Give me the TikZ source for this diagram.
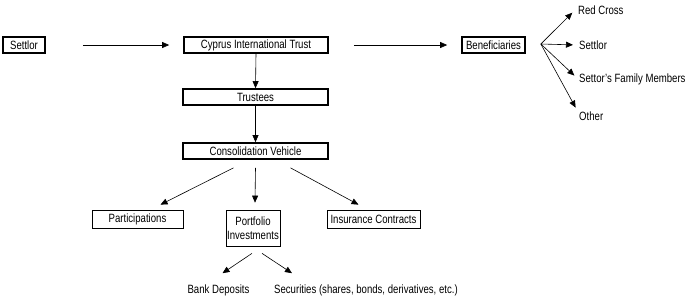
\documentclass[tikz,border=0pt]{standalone}
\usepackage{fontspec}
\setmainfont[FakeStretch=0.8]{Liberation Sans}
\usetikzlibrary{arrows.meta,shadows}
\begin{document}
\begin{tikzpicture}[x=1pt,y=-1pt,
  every node/.style={font=\fontsize{12}{13}\selectfont},
  bigbox/.style={draw, line width=1.7pt, minimum height=16pt, inner sep=0pt},
  smallbox/.style={draw, line width=0.7pt, minimum height=18pt, inner sep=0pt, fill=white,
     drop shadow={shadow xshift=1pt, shadow yshift=-1pt, opacity=1, fill=black}},
  lbl/.style={inner sep=1pt},
  conn/.style={line width=0.6pt, -{Triangle[length=7pt,width=6pt]}}]
\useasboundingbox (0,0) rectangle (697,301);
% top row
\node[bigbox, minimum width=42pt] (settlor) at (24,45) {Settlor};
\node[bigbox, minimum width=144pt] (cit) at (256,45) {Cyprus International Trust};
\node[bigbox, minimum width=63pt] (ben) at (493.5,45) {Beneficiaries};
\node[bigbox, minimum width=145pt] (trustees) at (255.5,97) {Trustees};
\node[bigbox, minimum width=145pt] (cv) at (255.5,151) {Consolidation Vehicle};
% beneficiaries
\node[lbl, anchor=west] (rc) at (577,10) {Red Cross};
\node[lbl, anchor=west] (bs) at (578,45) {Settlor};
\node[lbl, anchor=west] (fam) at (578,79) {Settor's Family Members};
\node[lbl, anchor=west] (oth) at (578,116) {Other};
% investments
\node[smallbox, minimum width=91pt] (part) at (137.5,219) {Participations};
\node[smallbox, minimum width=54pt, minimum height=36pt, align=center] (pi) at (253,228) {Portfolio\\[1pt]Investments};
\node[smallbox, minimum width=93pt] (ic) at (373.5,219) {Insurance Contracts};
\node[lbl] (bank) at (218.5,290) {Bank Deposits};
\node[lbl, anchor=west] (sec) at (273,290) {Securities (shares, bonds, derivatives, etc.)};
% connectors
\draw[conn, shorten <=37pt, shorten >=14pt] (settlor.east) -- (cit.west);
\draw[conn, shorten <=25pt, shorten >=14pt] (cit.east) -- (ben.west);
\draw[conn, shorten >=1pt] ([xshift=15pt,yshift=1pt]ben.east) -- ([xshift=-4pt,yshift=-2pt]rc.west);
\draw[conn, shorten >=5pt] ([xshift=15pt,yshift=1pt]ben.east) -- (bs.west);
\draw[conn, shorten >=5pt] ([xshift=15pt,yshift=1pt]ben.east) -- (fam.west);
\draw[conn, shorten >=5pt] ([xshift=15pt,yshift=1pt]ben.east) -- ([yshift=4pt]oth.west);
\draw[conn] (cit.south) -- (trustees.north);
\draw[conn] (trustees.south) -- (cv.north);
\draw[conn] ([xshift=-22pt,yshift=-8pt]cv.south) -- ([xshift=23pt,yshift=5pt]part.north);
\draw[conn] ([yshift=-8pt]cv.south) -- ([xshift=2pt,yshift=7pt]pi.north);
\draw[conn] ([xshift=35pt,yshift=-8pt]cv.south) -- ([xshift=-15pt,yshift=5pt]ic.north);
\draw[conn] ([xshift=-1pt,yshift=-7pt]pi.south) -- ([xshift=4pt,yshift=10pt]bank.north);
\draw[conn] ([xshift=9pt,yshift=-7pt]pi.south) -- ([xshift=19pt,yshift=10pt]sec.north west);
\end{tikzpicture}
\end{document}
